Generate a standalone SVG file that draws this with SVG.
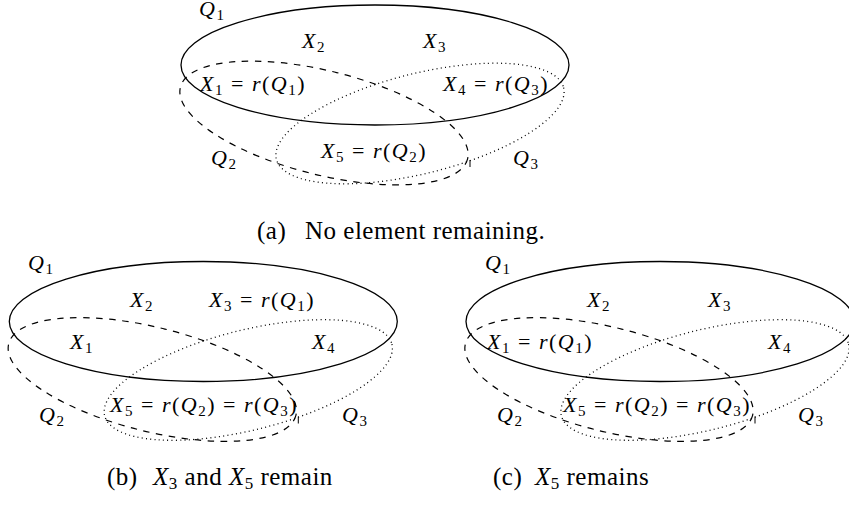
<svg xmlns="http://www.w3.org/2000/svg" width="849" height="508" viewBox="0 0 849 508">
<style>
  .q1{fill:none;stroke:#000;stroke-width:1.3}
  .q2{fill:none;stroke:#000;stroke-width:1.2;stroke-dasharray:6.5 6.5}
  .q3{fill:none;stroke:#000;stroke-width:1.3;stroke-dasharray:1 3.3}
  .tick{stroke:#000;stroke-width:1}
  text{font-family:"Liberation Serif","Times New Roman",serif;font-size:22px;letter-spacing:1.5px;fill:#000}
  .cap{font-size:25px;letter-spacing:0.5px}
  .i{font-style:italic}
  .s{font-size:15px;font-style:normal}
  .cap .s{font-size:17px}
</style>
<rect width="849" height="508" fill="#fff"/>

<g id="panel-a" transform="translate(375,65)">
  <g id="a-Q1"><ellipse class="q1" cx="0" cy="0" rx="194" ry="60"/></g>
  <g id="a-Q2"><ellipse class="q2" cx="-51" cy="58" rx="148" ry="52" transform="rotate(14 -51 58)"/></g>
  <g id="a-Q3"><ellipse class="q3" cx="45" cy="58.5" rx="148" ry="50" transform="rotate(-14 45 58.5)"/></g>
</g>
<g id="panel-b" transform="translate(203.3,321.5)">
  <g id="b-Q1"><ellipse class="q1" cx="0" cy="0" rx="194" ry="60"/></g>
  <g id="b-Q2"><ellipse class="q2" cx="-51" cy="58" rx="148" ry="52" transform="rotate(14 -51 58)"/></g>
  <g id="b-Q3"><ellipse class="q3" cx="45" cy="58.5" rx="148" ry="50" transform="rotate(-14 45 58.5)"/></g>
</g>
<g id="panel-c" transform="translate(660,321.5)">
  <g id="c-Q1"><ellipse class="q1" cx="0" cy="0" rx="194" ry="60"/></g>
  <g id="c-Q2"><ellipse class="q2" cx="-51" cy="58" rx="148" ry="52" transform="rotate(14 -51 58)"/></g>
  <g id="c-Q3"><ellipse class="q3" cx="45" cy="58.5" rx="148" ry="50" transform="rotate(-14 45 58.5)"/></g>
</g>

<g id="connectors">
  <line class="tick" x1="470" y1="160" x2="470" y2="167"/>
  <line class="tick" x1="298.3" y1="416.5" x2="298.3" y2="423.5"/>
  <line class="tick" x1="755" y1="416.5" x2="755" y2="423.5"/>
</g>

<g id="labels-a">
  <text x="199" y="16"><tspan class="i">Q</tspan><tspan class="s" dy="4">1</tspan></text>
  <text x="302" y="48"><tspan class="i">X</tspan><tspan class="s" dy="4">2</tspan></text>
  <text x="423" y="48"><tspan class="i">X</tspan><tspan class="s" dy="4">3</tspan></text>
  <text x="200" y="91"><tspan class="i">X</tspan><tspan class="s" dy="4">1</tspan><tspan dy="-4"> = </tspan><tspan class="i">r</tspan>(<tspan class="i">Q</tspan><tspan class="s" dy="4">1</tspan><tspan dy="-4">)</tspan></text>
  <text x="443" y="91"><tspan class="i">X</tspan><tspan class="s" dy="4">4</tspan><tspan dy="-4"> = </tspan><tspan class="i">r</tspan>(<tspan class="i">Q</tspan><tspan class="s" dy="4">3</tspan><tspan dy="-4">)</tspan></text>
  <text x="211" y="165"><tspan class="i">Q</tspan><tspan class="s" dy="4">2</tspan></text>
  <text x="321" y="158"><tspan class="i">X</tspan><tspan class="s" dy="4">5</tspan><tspan dy="-4"> = </tspan><tspan class="i">r</tspan>(<tspan class="i">Q</tspan><tspan class="s" dy="4">2</tspan><tspan dy="-4">)</tspan></text>
  <text x="513" y="165"><tspan class="i">Q</tspan><tspan class="s" dy="4">3</tspan></text>
  <text class="cap" x="257" y="239">(a)<tspan x="305">No element remaining.</tspan></text>
</g>

<g id="labels-b">
  <text x="28" y="270"><tspan class="i">Q</tspan><tspan class="s" dy="4">1</tspan></text>
  <text x="130" y="307"><tspan class="i">X</tspan><tspan class="s" dy="4">2</tspan></text>
  <text x="209" y="307"><tspan class="i">X</tspan><tspan class="s" dy="4">3</tspan><tspan dy="-4"> = </tspan><tspan class="i">r</tspan>(<tspan class="i">Q</tspan><tspan class="s" dy="4">1</tspan><tspan dy="-4">)</tspan></text>
  <text x="70" y="349"><tspan class="i">X</tspan><tspan class="s" dy="4">1</tspan></text>
  <text x="312" y="349"><tspan class="i">X</tspan><tspan class="s" dy="4">4</tspan></text>
  <text x="110" y="412"><tspan class="i">X</tspan><tspan class="s" dy="4">5</tspan><tspan dy="-4"> = </tspan><tspan class="i">r</tspan>(<tspan class="i">Q</tspan><tspan class="s" dy="4">2</tspan><tspan dy="-4">) = </tspan><tspan class="i">r</tspan>(<tspan class="i">Q</tspan><tspan class="s" dy="4">3</tspan><tspan dy="-4">)</tspan></text>
  <text x="39" y="422"><tspan class="i">Q</tspan><tspan class="s" dy="4">2</tspan></text>
  <text x="342" y="422"><tspan class="i">Q</tspan><tspan class="s" dy="4">3</tspan></text>
  <text class="cap" x="107" y="485">(b)<tspan class="i" x="153">X</tspan><tspan class="s" dy="4">3</tspan><tspan dy="-4"> and </tspan><tspan class="i">X</tspan><tspan class="s" dy="4">5</tspan><tspan dy="-4"> remain</tspan></text>
</g>

<g id="labels-c">
  <text x="485" y="270"><tspan class="i">Q</tspan><tspan class="s" dy="4">1</tspan></text>
  <text x="587" y="307"><tspan class="i">X</tspan><tspan class="s" dy="4">2</tspan></text>
  <text x="708" y="307"><tspan class="i">X</tspan><tspan class="s" dy="4">3</tspan></text>
  <text x="487" y="349"><tspan class="i">X</tspan><tspan class="s" dy="4">1</tspan><tspan dy="-4"> = </tspan><tspan class="i">r</tspan>(<tspan class="i">Q</tspan><tspan class="s" dy="4">1</tspan><tspan dy="-4">)</tspan></text>
  <text x="768" y="349"><tspan class="i">X</tspan><tspan class="s" dy="4">4</tspan></text>
  <text x="563" y="412"><tspan class="i">X</tspan><tspan class="s" dy="4">5</tspan><tspan dy="-4"> = </tspan><tspan class="i">r</tspan>(<tspan class="i">Q</tspan><tspan class="s" dy="4">2</tspan><tspan dy="-4">) = </tspan><tspan class="i">r</tspan>(<tspan class="i">Q</tspan><tspan class="s" dy="4">3</tspan><tspan dy="-4">)</tspan></text>
  <text x="497" y="422"><tspan class="i">Q</tspan><tspan class="s" dy="4">2</tspan></text>
  <text x="798" y="422"><tspan class="i">Q</tspan><tspan class="s" dy="4">3</tspan></text>
  <text class="cap" x="493" y="485">(c)<tspan class="i" x="535">X</tspan><tspan class="s" dy="4">5</tspan><tspan dy="-4"> remains</tspan></text>
</g>
</svg>
